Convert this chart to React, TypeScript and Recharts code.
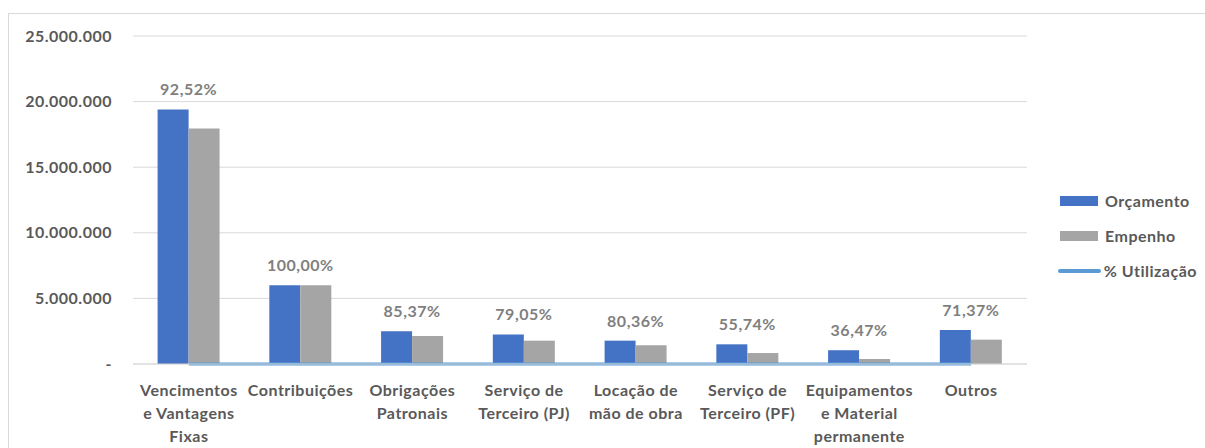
import {
  ComposedChart, Bar, Line, XAxis, YAxis, CartesianGrid, Legend, LabelList
} from 'recharts'

const categories = [
  'Vencimentos\ne Vantagens\nFixas',
  'Contribuições',
  'Obrigações\nPatronais',
  'Serviço de\nTerceiro (PJ)',
  'Locação de\nmão de obra',
  'Serviço de\nTerceiro (PF)',
  'Equipamentos\ne Material\npermanente',
  'Outros',
]
const orcamento = [19400000, 6000000, 2500000, 2250000, 1780000, 1500000, 1050000, 2600000]
const empenho = [17950000, 6000000, 2134000, 1779000, 1430000, 836000, 383000, 1856000]
const utilizacao = [0.9252, 1, 0.8537, 0.7905, 0.8036, 0.5574, 0.3647, 0.7137]
const yTicks = [0, 5000000, 10000000, 15000000, 20000000, 25000000]

const SERIES = [
  { key: 'orcamento', label: 'Orçamento', color: '#4472C4', kind: 'bar' },
  { key: 'empenho', label: 'Empenho', color: '#A5A5A5', kind: 'bar' },
  { key: 'utilizacao', label: '% Utilização', color: '#5B9BD5', kind: 'line' },
]

const data = categories.map((name, i) => ({
  name,
  orcamento: orcamento[i],
  empenho: empenho[i],
  utilizacao: utilizacao[i],
}))

const TEXT = '#595959'
const FONT = 'Lato, "Liberation Sans", sans-serif'

const fmtMoney = (v: number) =>
  v === 0 ? '-' : String(Math.round(v)).replace(/\B(?=(\d{3})+(?!\d))/g, '.')

const fmtPct = (v: number) => (v * 100).toFixed(2).replace('.', ',') + '%'

function CategoryTick({ x, y, payload }: any) {
  const lines = String(payload.value).split('\n')
  return (
    <text x={x} y={y} textAnchor="middle" fill={TEXT} fontSize={16} fontWeight={700}>
      {lines.map((l, i) => (
        <tspan key={i} x={x} dy={i === 0 ? 30 : 23}>{l}</tspan>
      ))}
    </text>
  )
}

function PctLabel({ x, y, width, index }: any) {
  return (
    <text x={x + width} y={y - 14} textAnchor="middle" fill="#7F7F7F" fontSize={16} fontWeight={700}>
      {fmtPct(utilizacao[index])}
    </text>
  )
}

function LegendBox() {
  return (
    <div style={{ paddingLeft: 33, fontFamily: FONT, fontSize: 16, fontWeight: 700, color: TEXT }}>
      {SERIES.map(s => (
        <div key={s.key} style={{ display: 'flex', alignItems: 'center', height: 35 }}>
          {s.kind === 'bar' ? (
            <span style={{ width: 38, height: 10, background: s.color, display: 'inline-block' }} />
          ) : (
            <span style={{ width: 44, height: 4, marginLeft: -2, borderRadius: 2, background: s.color, display: 'inline-block' }} />
          )}
          <span style={{ marginLeft: s.kind === 'bar' ? 7 : 3, whiteSpace: 'nowrap' }}>{s.label}</span>
        </div>
      ))}
    </div>
  )
}

export default function App() {
  return (
    <div style={{ position: 'fixed', left: 0, top: 0, width: 1205, height: 448, overflow: 'hidden', background: '#fff', fontFamily: FONT, letterSpacing: 0.5 }}>
      <div style={{ position: 'absolute', left: 8, top: 13, width: 1300, height: 600, borderTop: '1px solid #D9D9D9', borderLeft: '1px solid #D9D9D9' }} />
      <div style={{ position: 'absolute', left: 0, top: 0 }}>
        <ComposedChart
          width={1205}
          height={448}
          data={data}
          margin={{ top: 36, right: 8, left: 0, bottom: 4 }}
          barGap={0}
          barCategoryGap="22%"
        >
          <CartesianGrid vertical={false} stroke="#D9D9D9" />
          <XAxis
            dataKey="name"
            interval={0}
            height={80}
            tickLine={false}
            axisLine={{ stroke: '#D9D9D9' }}
            tickSize={0}
            tick={<CategoryTick />}
          />
          <YAxis
            width={133}
            domain={[0, 25000000]}
            ticks={yTicks}
            tickFormatter={fmtMoney}
            axisLine={false}
            tickLine={false}
            tickSize={0}
            tickMargin={21}
            tick={{ fill: TEXT, fontSize: 16, fontWeight: 700 }}
          />
          <Legend
            layout="vertical"
            align="right"
            verticalAlign="middle"
            width={170}
            wrapperStyle={{ top: 183 }}
            content={() => <LegendBox />}
          />
          <Bar dataKey="orcamento" name="Orçamento" fill="#4472C4" isAnimationActive={false}>
            <LabelList dataKey="orcamento" content={<PctLabel />} />
          </Bar>
          <Bar dataKey="empenho" name="Empenho" fill="#A5A5A5" isAnimationActive={false} />
          <Line
            dataKey="utilizacao"
            name="% Utilização"
            stroke="#5B9BD5"
            strokeWidth={3}
            dot={false}
            activeDot={false}
            isAnimationActive={false}
          />
        </ComposedChart>
      </div>
    </div>
  )
}
